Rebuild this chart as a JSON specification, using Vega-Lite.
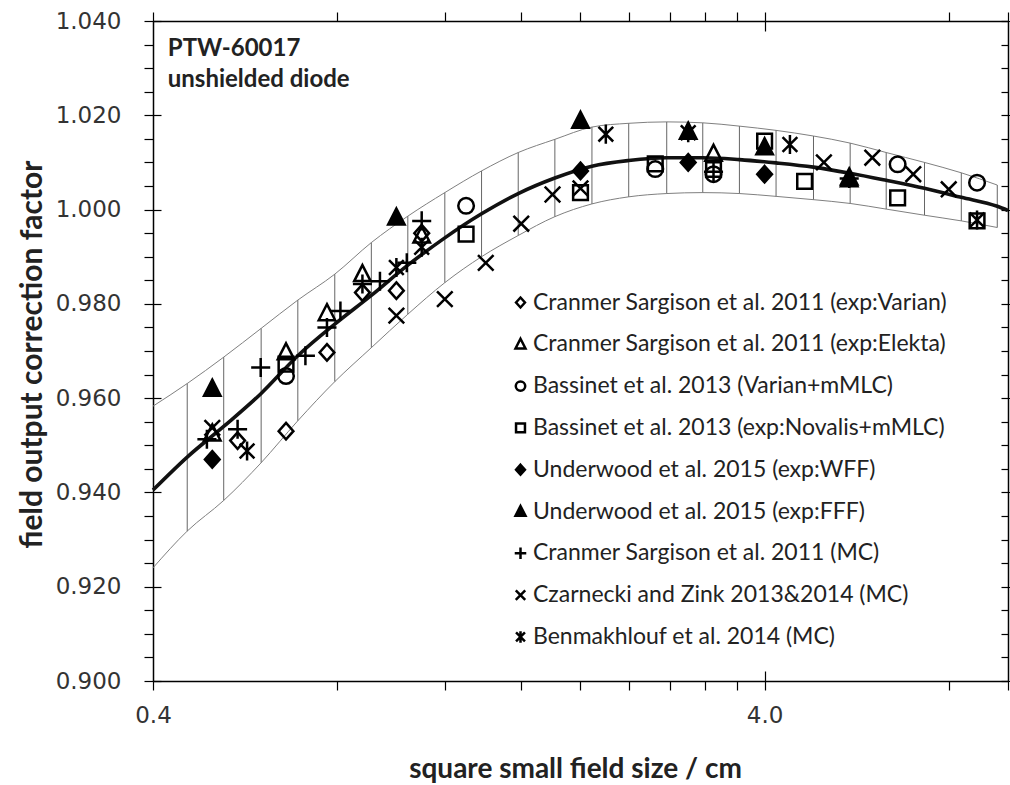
{
  "$schema": "https://vega.github.io/schema/vega-lite/v6.json",
  "width": 855,
  "height": 660,
  "autosize": "none",
  "padding": {"left": 153, "top": 21, "right": 2, "bottom": 104},
  "background": "white",
  "config": {
    "view": {"stroke": null},
    "axis": {"grid": false, "domainColor": "black", "tickColor": "black", "tickWidth": 1.2, "domainWidth": 1.5}
  },
  "datasets": {
    "band": [
      {"x": 0.4, "lo": 0.924, "hi": 0.9583},
      {"x": 0.455, "lo": 0.9318, "hi": 0.9631},
      {"x": 0.522, "lo": 0.9383, "hi": 0.9687},
      {"x": 0.601, "lo": 0.9463, "hi": 0.9748},
      {"x": 0.69, "lo": 0.9552, "hi": 0.9808},
      {"x": 0.793, "lo": 0.9635, "hi": 0.9863},
      {"x": 0.91, "lo": 0.9707, "hi": 0.993},
      {"x": 1.044, "lo": 0.9778, "hi": 0.9986},
      {"x": 1.2, "lo": 0.9845, "hi": 1.0036},
      {"x": 1.378, "lo": 0.99, "hi": 1.0082},
      {"x": 1.582, "lo": 0.9945, "hi": 1.0121},
      {"x": 1.816, "lo": 0.9985, "hi": 1.0149},
      {"x": 2.088, "lo": 1.0012, "hi": 1.0175},
      {"x": 2.398, "lo": 1.0027, "hi": 1.0183},
      {"x": 2.767, "lo": 1.0034, "hi": 1.0186},
      {"x": 3.169, "lo": 1.0036, "hi": 1.0184},
      {"x": 3.638, "lo": 1.0034, "hi": 1.0177},
      {"x": 4.176, "lo": 1.0028, "hi": 1.0168},
      {"x": 4.808, "lo": 1.0021, "hi": 1.0156},
      {"x": 5.52, "lo": 1.0013, "hi": 1.0141},
      {"x": 6.322, "lo": 1.0001, "hi": 1.0121},
      {"x": 7.303, "lo": 0.9988, "hi": 1.01},
      {"x": 8.388, "lo": 0.9976, "hi": 1.0078},
      {"x": 9.604, "lo": 0.9962, "hi": 1.0052}
    ],
    "fit": [
      {"x": 0.4, "k": 0.9405},
      {"x": 0.455, "k": 0.9475},
      {"x": 0.522, "k": 0.954},
      {"x": 0.601, "k": 0.961},
      {"x": 0.69, "k": 0.969},
      {"x": 0.793, "k": 0.9757},
      {"x": 0.91, "k": 0.9818},
      {"x": 1.044, "k": 0.9882},
      {"x": 1.2, "k": 0.994},
      {"x": 1.378, "k": 0.9991},
      {"x": 1.582, "k": 1.0034},
      {"x": 1.816, "k": 1.0067},
      {"x": 2.088, "k": 1.0092},
      {"x": 2.398, "k": 1.0104},
      {"x": 2.767, "k": 1.011},
      {"x": 3.169, "k": 1.011},
      {"x": 3.638, "k": 1.0106},
      {"x": 4.176, "k": 1.0099},
      {"x": 4.808, "k": 1.009},
      {"x": 5.52, "k": 1.0077},
      {"x": 6.322, "k": 1.0062},
      {"x": 7.303, "k": 1.0045},
      {"x": 8.388, "k": 1.0026},
      {"x": 9.604, "k": 1.0007},
      {"x": 10, "k": 0.9998}
    ],
    "points": [
      {"s": "Cranmer Sargison et al. 2011 (exp:Varian)", "x": 0.55, "y": 0.951},
      {"s": "Cranmer Sargison et al. 2011 (exp:Varian)", "x": 0.66, "y": 0.953},
      {"s": "Cranmer Sargison et al. 2011 (exp:Varian)", "x": 0.77, "y": 0.9697},
      {"s": "Cranmer Sargison et al. 2011 (exp:Varian)", "x": 0.88, "y": 0.9824},
      {"s": "Cranmer Sargison et al. 2011 (exp:Varian)", "x": 1.0, "y": 0.9828},
      {"s": "Cranmer Sargison et al. 2011 (exp:Varian)", "x": 1.1, "y": 0.995},
      {"s": "Cranmer Sargison et al. 2011 (exp:Elekta)", "x": 0.5, "y": 0.9525},
      {"s": "Cranmer Sargison et al. 2011 (exp:Elekta)", "x": 0.66, "y": 0.9697},
      {"s": "Cranmer Sargison et al. 2011 (exp:Elekta)", "x": 0.77, "y": 0.978},
      {"s": "Cranmer Sargison et al. 2011 (exp:Elekta)", "x": 0.88, "y": 0.9863},
      {"s": "Cranmer Sargison et al. 2011 (exp:Elekta)", "x": 1.1, "y": 0.9945},
      {"s": "Cranmer Sargison et al. 2011 (exp:Elekta)", "x": 3.3, "y": 1.0118},
      {"s": "Cranmer Sargison et al. 2011 (exp:Elekta)", "x": 5.5, "y": 1.0064},
      {"s": "Bassinet et al. 2013 (Varian+mMLC)", "x": 0.66, "y": 0.9647},
      {"s": "Bassinet et al. 2013 (Varian+mMLC)", "x": 1.3, "y": 1.0008},
      {"s": "Bassinet et al. 2013 (Varian+mMLC)", "x": 2.65, "y": 1.0086},
      {"s": "Bassinet et al. 2013 (Varian+mMLC)", "x": 3.3, "y": 1.0075},
      {"s": "Bassinet et al. 2013 (Varian+mMLC)", "x": 6.6, "y": 1.0096},
      {"s": "Bassinet et al. 2013 (Varian+mMLC)", "x": 8.9, "y": 1.0057},
      {"s": "Bassinet et al. 2013 (exp:Novalis+mMLC)", "x": 0.66, "y": 0.9672},
      {"s": "Bassinet et al. 2013 (exp:Novalis+mMLC)", "x": 1.3, "y": 0.9948},
      {"s": "Bassinet et al. 2013 (exp:Novalis+mMLC)", "x": 2.0, "y": 1.0036},
      {"s": "Bassinet et al. 2013 (exp:Novalis+mMLC)", "x": 2.65, "y": 1.0097},
      {"s": "Bassinet et al. 2013 (exp:Novalis+mMLC)", "x": 3.3, "y": 1.0085},
      {"s": "Bassinet et al. 2013 (exp:Novalis+mMLC)", "x": 4.0, "y": 1.0145},
      {"s": "Bassinet et al. 2013 (exp:Novalis+mMLC)", "x": 4.65, "y": 1.006},
      {"s": "Bassinet et al. 2013 (exp:Novalis+mMLC)", "x": 6.6, "y": 1.0025},
      {"s": "Bassinet et al. 2013 (exp:Novalis+mMLC)", "x": 8.9, "y": 0.9976},
      {"s": "Underwood et al. 2015 (exp:WFF)", "x": 0.5, "y": 0.947},
      {"s": "Underwood et al. 2015 (exp:WFF)", "x": 2.0, "y": 1.0082},
      {"s": "Underwood et al. 2015 (exp:WFF)", "x": 3.0, "y": 1.01},
      {"s": "Underwood et al. 2015 (exp:WFF)", "x": 4.0, "y": 1.0075},
      {"s": "Underwood et al. 2015 (exp:FFF)", "x": 0.5, "y": 0.962},
      {"s": "Underwood et al. 2015 (exp:FFF)", "x": 1.0, "y": 0.9983},
      {"s": "Underwood et al. 2015 (exp:FFF)", "x": 2.0, "y": 1.0188},
      {"s": "Underwood et al. 2015 (exp:FFF)", "x": 3.0, "y": 1.0165},
      {"s": "Underwood et al. 2015 (exp:FFF)", "x": 4.0, "y": 1.0132},
      {"s": "Underwood et al. 2015 (exp:FFF)", "x": 5.5, "y": 1.0068},
      {"s": "Cranmer Sargison et al. 2011 (MC)", "x": 0.49, "y": 0.9513},
      {"s": "Cranmer Sargison et al. 2011 (MC)", "x": 0.55, "y": 0.9534},
      {"s": "Cranmer Sargison et al. 2011 (MC)", "x": 0.6, "y": 0.9665},
      {"s": "Cranmer Sargison et al. 2011 (MC)", "x": 0.71, "y": 0.969},
      {"s": "Cranmer Sargison et al. 2011 (MC)", "x": 0.77, "y": 0.975},
      {"s": "Cranmer Sargison et al. 2011 (MC)", "x": 0.81, "y": 0.9785},
      {"s": "Cranmer Sargison et al. 2011 (MC)", "x": 0.88, "y": 0.9842},
      {"s": "Cranmer Sargison et al. 2011 (MC)", "x": 0.94, "y": 0.9848},
      {"s": "Cranmer Sargison et al. 2011 (MC)", "x": 1.04, "y": 0.9887},
      {"s": "Cranmer Sargison et al. 2011 (MC)", "x": 1.1, "y": 0.9976},
      {"s": "Cranmer Sargison et al. 2011 (MC)", "x": 3.3, "y": 1.008},
      {"s": "Cranmer Sargison et al. 2011 (MC)", "x": 5.5, "y": 1.0066},
      {"s": "Czarnecki and Zink 2013&2014 (MC)", "x": 0.5, "y": 0.9537},
      {"s": "Czarnecki and Zink 2013&2014 (MC)", "x": 1.0, "y": 0.9775},
      {"s": "Czarnecki and Zink 2013&2014 (MC)", "x": 1.2, "y": 0.981},
      {"s": "Czarnecki and Zink 2013&2014 (MC)", "x": 1.4, "y": 0.9887},
      {"s": "Czarnecki and Zink 2013&2014 (MC)", "x": 1.6, "y": 0.997},
      {"s": "Czarnecki and Zink 2013&2014 (MC)", "x": 1.8, "y": 1.0032},
      {"s": "Czarnecki and Zink 2013&2014 (MC)", "x": 2.0, "y": 1.0045},
      {"s": "Czarnecki and Zink 2013&2014 (MC)", "x": 5.0, "y": 1.01},
      {"s": "Czarnecki and Zink 2013&2014 (MC)", "x": 6.0, "y": 1.011},
      {"s": "Czarnecki and Zink 2013&2014 (MC)", "x": 7.0, "y": 1.0075},
      {"s": "Czarnecki and Zink 2013&2014 (MC)", "x": 8.0, "y": 1.0043},
      {"s": "Benmakhlouf et al. 2014 (MC)", "x": 0.57, "y": 0.9488},
      {"s": "Benmakhlouf et al. 2014 (MC)", "x": 1.0, "y": 0.9877},
      {"s": "Benmakhlouf et al. 2014 (MC)", "x": 1.1, "y": 0.992},
      {"s": "Benmakhlouf et al. 2014 (MC)", "x": 2.2, "y": 1.016},
      {"s": "Benmakhlouf et al. 2014 (MC)", "x": 3.0, "y": 1.0163},
      {"s": "Benmakhlouf et al. 2014 (MC)", "x": 4.4, "y": 1.0138},
      {"s": "Benmakhlouf et al. 2014 (MC)", "x": 8.9, "y": 0.9978}
    ]
  },
  "resolve": {"axis": {"x": "independent", "y": "independent"}},
  "layer": [
    {
      "data": {"name": "band"},
      "mark": {"type": "line", "color": "#808080", "strokeWidth": 1, "interpolate": "monotone"},
      "encoding": {
        "x": {
          "field": "x", "type": "quantitative",
          "scale": {"type": "log", "domain": [0.4, 10], "nice": false},
          "axis": {
            "orient": "bottom",
            "values": [0.4, 0.8, 1.2, 1.6, 2.0, 2.4, 2.8, 3.2, 3.6, 4.0, 8.0, 10],
            "labelExpr": "(datum.value == 0.4 || datum.value == 4) ? format(datum.value, '.1f') : ''",
            "tickSize": 9,
            "labelFont": "DejaVu Sans", "labelFontSize": 23, "labelColor": "#333", "labelPadding": 14,
            "labelFlush": false, "labelOverlap": false,
            "title": "square small field size / cm",
            "titleFont": "Lato", "titleFontSize": 28, "titleFontWeight": "bold", "titleColor": "#222",
            "titleX": 422, "titleY": 88, "titleBaseline": "middle", "titleAnchor": "middle"
          }
        },
        "y": {
          "field": "hi", "type": "quantitative",
          "scale": {"domain": [0.9, 1.04], "nice": false, "zero": false},
          "axis": {
            "orient": "left",
            "values": [0.9, 0.905, 0.91, 0.915, 0.92, 0.925, 0.93, 0.935, 0.94, 0.945, 0.95, 0.955, 0.96, 0.965, 0.97, 0.975, 0.98, 0.985, 0.99, 0.995, 1.0, 1.005, 1.01, 1.015, 1.02, 1.025, 1.03, 1.035, 1.04],
            "labelExpr": "abs(datum.value * 50 - round(datum.value * 50)) < 0.001 ? format(datum.value, '.3f') : ''",
            "tickSize": 9,
            "labelFont": "DejaVu Sans", "labelFontSize": 23, "labelColor": "#333", "labelPadding": 23,
            "labelFlush": false, "labelOverlap": false,
            "title": "field output correction factor",
            "titleFont": "Lato", "titleFontSize": 30, "titleFontWeight": "bold", "titleColor": "#222",
            "titleX": -121, "titleY": 333, "titleAngle": -90, "titleBaseline": "middle", "titleAnchor": "middle"
          }
        }
      }
    },
    {
      "data": {"name": "band"},
      "mark": {"type": "line", "color": "#808080", "strokeWidth": 1, "interpolate": "monotone"},
      "encoding": {
        "x": {
          "field": "x", "type": "quantitative",
          "scale": {"type": "log", "domain": [0.4, 10], "nice": false},
          "axis": {
            "orient": "top",
            "values": [0.4, 0.8, 1.2, 1.6, 2.0, 2.4, 2.8, 3.2, 3.6, 4.0, 8.0, 10],
            "labels": false, "tickSize": 9, "title": null
          }
        },
        "y": {
          "field": "lo", "type": "quantitative",
          "scale": {"domain": [0.9, 1.04], "nice": false, "zero": false},
          "axis": {
            "orient": "right",
            "values": [0.9, 0.905, 0.91, 0.915, 0.92, 0.925, 0.93, 0.935, 0.94, 0.945, 0.95, 0.955, 0.96, 0.965, 0.97, 0.975, 0.98, 0.985, 0.99, 0.995, 1.0, 1.005, 1.01, 1.015, 1.02, 1.025, 1.03, 1.035, 1.04],
            "labels": false, "tickSize": -7, "title": null
          }
        }
      }
    },
    {
      "data": {"name": "band"},
      "transform": [{"filter": "datum.x > 0.41"}],
      "mark": {"type": "rule", "color": "#666", "strokeWidth": 1},
      "encoding": {
        "x": {
          "field": "x", "type": "quantitative",
          "scale": {"type": "log", "domain": [0.4, 10], "nice": false},
          "axis": {"orient": "bottom", "values": [4.0], "labels": false, "domain": false, "tickSize": -10, "title": null}
        },
        "y": {
          "field": "lo", "type": "quantitative",
          "scale": {"domain": [0.9, 1.04], "nice": false, "zero": false},
          "axis": {"orient": "left", "values": [0.9, 0.92, 0.94, 0.96, 0.98, 1.0, 1.02, 1.04], "labels": false, "domain": false, "tickSize": -8, "title": null}
        },
        "y2": {"field": "hi"}
      }
    },
    {
      "data": {"name": "fit"},
      "mark": {"type": "line", "color": "#111", "strokeWidth": 3.6, "interpolate": "monotone"},
      "encoding": {
        "x": {
          "field": "x", "type": "quantitative",
          "scale": {"type": "log", "domain": [0.4, 10], "nice": false},
          "axis": {"orient": "top", "values": [4.0], "labels": false, "domain": false, "tickSize": -10, "title": null}
        },
        "y": {
          "field": "k", "type": "quantitative",
          "scale": {"domain": [0.9, 1.04], "nice": false, "zero": false},
          "axis": {"orient": "right", "values": [0.9, 0.92, 0.94, 0.96, 0.98, 1.0, 1.02, 1.04], "labels": false, "domain": false, "tickSize": 3, "title": null}
        }
      }
    },
    {
      "mark": {"type": "rule", "color": "#555", "strokeWidth": 1},
      "encoding": {
        "y": {"datum": 0.95, "type": "quantitative", "axis": null}
      }
    },
    {
      "data": {"name": "points"},
      "mark": {"type": "point", "filled": false, "color": "black", "stroke": "black", "strokeWidth": 2.5, "opacity": 1, "size": 300},
      "encoding": {
        "x": {"field": "x", "type": "quantitative", "axis": null},
        "y": {"field": "y", "type": "quantitative", "axis": null},
        "shape": {
          "field": "s", "type": "nominal",
          "scale": {
            "domain": [
              "Cranmer Sargison et al. 2011 (exp:Varian)",
              "Cranmer Sargison et al. 2011 (exp:Elekta)",
              "Bassinet et al. 2013 (Varian+mMLC)",
              "Bassinet et al. 2013 (exp:Novalis+mMLC)",
              "Underwood et al. 2015 (exp:WFF)",
              "Underwood et al. 2015 (exp:FFF)",
              "Cranmer Sargison et al. 2011 (MC)",
              "Czarnecki and Zink 2013&2014 (MC)",
              "Benmakhlouf et al. 2014 (MC)"
            ],
            "range": [
              "M0,-0.95L0.85,0L0,0.95L-0.85,0Z",
              "M0,-1.05L0.95,0.8L-0.95,0.8Z",
              "M0.9,0A0.9,0.9 0 1,1 -0.9,0A0.9,0.9 0 1,1 0.9,0Z",
              "M-0.85,-0.85H0.85V0.85H-0.85Z",
              "M0,-0.95L0.85,0L0,0.95L-0.85,0Z",
              "M0,-1.05L0.95,0.8L-0.95,0.8Z",
              "M-1.1,0H1.1M0,-1.1V1.1",
              "M-0.9,-0.9L0.9,0.9M-0.9,0.9L0.9,-0.9",
              "M-0.85,-0.85L0.85,0.85M-0.85,0.85L0.85,-0.85M0,-1.1V1.1"
            ]
          },
          "legend": {
            "orient": "none", "legendX": 340, "legendY": 254,
            "title": null, "fillColor": "white", "padding": 16,
            "rowPadding": 17.8, "symbolSize": 110, "symbolStrokeWidth": 2.5,
            "labelFont": "Lato", "labelFontSize": 23, "labelColor": "#222",
            "labelOffset": 1, "labelLimit": 600,
            "encode": {
              "symbols": {
                "stroke": {"value": "black"},
                "strokeWidth": {"value": 2.5},
                "opacity": {"value": 1}
              }
            }
          }
        },
        "fill": {
          "field": "s", "type": "nominal",
          "scale": {
            "domain": [
              "Cranmer Sargison et al. 2011 (exp:Varian)",
              "Cranmer Sargison et al. 2011 (exp:Elekta)",
              "Bassinet et al. 2013 (Varian+mMLC)",
              "Bassinet et al. 2013 (exp:Novalis+mMLC)",
              "Underwood et al. 2015 (exp:WFF)",
              "Underwood et al. 2015 (exp:FFF)",
              "Cranmer Sargison et al. 2011 (MC)",
              "Czarnecki and Zink 2013&2014 (MC)",
              "Benmakhlouf et al. 2014 (MC)"
            ],
            "range": ["transparent", "transparent", "transparent", "transparent", "black", "black", "transparent", "transparent", "transparent"]
          }
        }
      }
    },
    {
      "data": {"values": [{"t": "PTW-60017"}]},
      "mark": {
        "type": "text", "align": "left", "baseline": "alphabetic",
        "font": "Lato", "fontSize": 24, "fontWeight": "bold", "color": "#222"
      },
      "encoding": {
        "text": {"field": "t", "type": "nominal"},
        "x": {"datum": 0.4229, "type": "quantitative", "axis": null},
        "y": {"datum": 1.0325, "type": "quantitative", "axis": null}
      }
    },
    {
      "data": {"values": [{"t": "unshielded diode"}]},
      "mark": {
        "type": "text", "align": "left", "baseline": "alphabetic",
        "font": "Lato", "fontSize": 24, "fontWeight": "bold", "color": "#222"
      },
      "encoding": {
        "text": {"field": "t", "type": "nominal"},
        "x": {"datum": 0.4229, "type": "quantitative", "axis": null},
        "y": {"datum": 1.026, "type": "quantitative", "axis": null}
      }
    }
  ]
}
